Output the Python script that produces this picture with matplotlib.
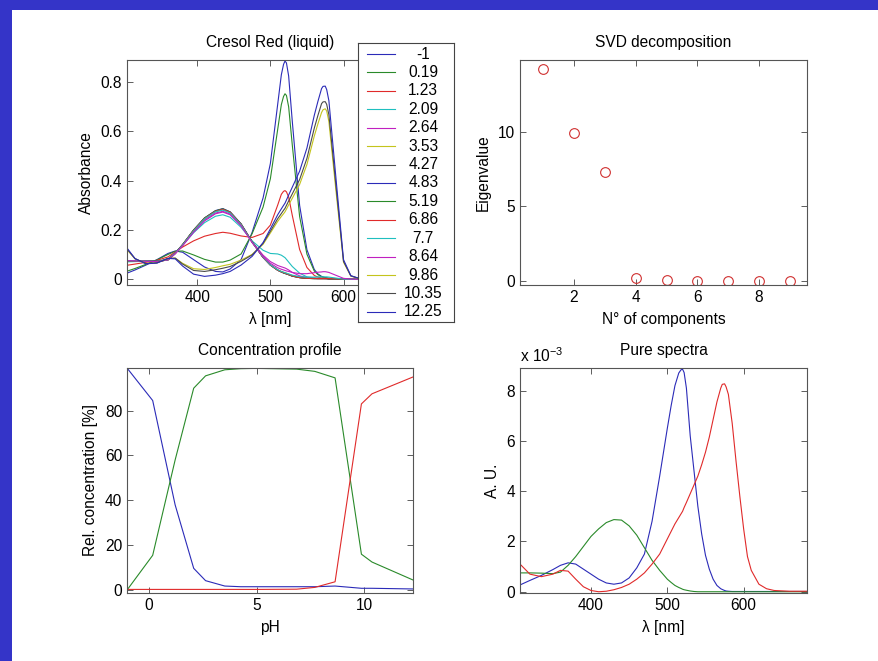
import matplotlib
matplotlib.use("Agg")
import matplotlib.pyplot as plt
from matplotlib.patches import Rectangle

# pH values of the titration (legend entries)
ph = [-1, 0.19, 1.23, 2.09, 2.64, 3.53, 4.27, 4.83, 5.19, 6.86, 7.7, 8.64, 9.86, 10.35, 12.25]
ph_labels = ["-1", "0.19", "1.23", "2.09", "2.64", "3.53", "4.27", "4.83", "5.19",
             "6.86", "7.7", "8.64", "9.86", "10.35", "12.25"]

# measured spectra (top left), one list per pH
wl_mix = [304, 315, 330, 345, 360, 370, 380, 395, 410, 425, 435, 445, 460, 475, 490, 500,
          510, 515, 518, 520, 522, 525, 530, 540, 550, 560, 565, 570, 572, 575, 577, 580,
          590, 600, 610, 620, 640, 695]
a_m1 = [0.025, 0.038, 0.058, 0.080, 0.105, 0.115, 0.110, 0.080, 0.050, 0.032, 0.030, 0.042, 0.080, 0.190, 0.330, 0.470,
        0.710, 0.830, 0.872, 0.886, 0.878, 0.825, 0.640, 0.300, 0.120, 0.040, 0.022, 0.012, 0.010, 0.007, 0.006, 0.004,
        0.003, 0.001, 0.0, 0.0, 0.0, 0.0]
a_019 = [0.033, 0.044, 0.061, 0.079, 0.101, 0.114, 0.115, 0.099, 0.081, 0.070, 0.070, 0.078, 0.103, 0.185, 0.293, 0.408,
         0.608, 0.709, 0.742, 0.753, 0.746, 0.700, 0.544, 0.255, 0.102, 0.034, 0.019, 0.010, 0.008, 0.006, 0.005, 0.004,
         0.003, 0.001, 0.0, 0.0, 0.0, 0.0]
a_123 = [0.057, 0.062, 0.069, 0.077, 0.091, 0.111, 0.131, 0.156, 0.175, 0.186, 0.191, 0.187, 0.176, 0.170, 0.186, 0.220,
         0.301, 0.345, 0.357, 0.360, 0.355, 0.334, 0.259, 0.121, 0.048, 0.016, 0.009, 0.005, 0.005, 0.004, 0.003, 0.003,
         0.002, 0.001, 0.0, 0.0, 0.0, 0.0]
a_209 = [0.071, 0.072, 0.073, 0.074, 0.082, 0.107, 0.138, 0.189, 0.230, 0.256, 0.262, 0.252, 0.211, 0.156, 0.118, 0.105,
         0.103, 0.098, 0.092, 0.088, 0.081, 0.070, 0.052, 0.025, 0.010, 0.006, 0.005, 0.004, 0.004, 0.003, 0.003, 0.002,
         0.002, 0.001, 0.0, 0.0, 0.0, 0.0]
a_264 = [0.073, 0.074, 0.073, 0.072, 0.079, 0.105, 0.139, 0.194, 0.241, 0.269, 0.276, 0.265, 0.219, 0.153, 0.098, 0.072,
         0.056, 0.051, 0.048, 0.046, 0.043, 0.038, 0.028, 0.014, 0.007, 0.004, 0.003, 0.003, 0.003, 0.003, 0.003, 0.002,
         0.002, 0.001, 0.0, 0.0, 0.0, 0.0]
a_353 = [0.075, 0.075, 0.074, 0.072, 0.079, 0.105, 0.140, 0.198, 0.246, 0.276, 0.283, 0.271, 0.223, 0.152, 0.090, 0.059,
         0.039, 0.032, 0.029, 0.027, 0.025, 0.021, 0.015, 0.008, 0.004, 0.003, 0.003, 0.003, 0.003, 0.003, 0.003, 0.002,
         0.002, 0.001, 0.0, 0.0, 0.0, 0.0]
a_427 = [0.075, 0.075, 0.074, 0.073, 0.079, 0.106, 0.140, 0.199, 0.248, 0.277, 0.285, 0.272, 0.224, 0.152, 0.089, 0.058,
         0.037, 0.030, 0.026, 0.024, 0.022, 0.019, 0.013, 0.007, 0.004, 0.003, 0.003, 0.003, 0.003, 0.003, 0.003, 0.002,
         0.002, 0.001, 0.0, 0.0, 0.0, 0.0]
a_483 = [0.076, 0.076, 0.075, 0.073, 0.080, 0.107, 0.141, 0.200, 0.249, 0.279, 0.287, 0.274, 0.225, 0.153, 0.089, 0.058,
         0.037, 0.030, 0.026, 0.024, 0.022, 0.019, 0.013, 0.007, 0.004, 0.003, 0.003, 0.003, 0.003, 0.003, 0.003, 0.002,
         0.002, 0.001, 0.0, 0.0, 0.0, 0.0]
a_519 = [0.075, 0.075, 0.074, 0.073, 0.079, 0.106, 0.141, 0.200, 0.249, 0.278, 0.286, 0.273, 0.224, 0.152, 0.089, 0.058,
         0.037, 0.030, 0.026, 0.024, 0.022, 0.019, 0.013, 0.007, 0.004, 0.003, 0.003, 0.003, 0.003, 0.003, 0.003, 0.002,
         0.002, 0.001, 0.0, 0.0, 0.0, 0.0]
a_686 = [0.075, 0.075, 0.074, 0.072, 0.079, 0.105, 0.140, 0.198, 0.247, 0.276, 0.284, 0.272, 0.223, 0.151, 0.089, 0.058,
         0.037, 0.030, 0.027, 0.025, 0.023, 0.019, 0.014, 0.007, 0.004, 0.004, 0.003, 0.003, 0.003, 0.003, 0.003, 0.003,
         0.002, 0.001, 0.0, 0.0, 0.0, 0.0]
a_77 = [0.075, 0.075, 0.074, 0.072, 0.079, 0.105, 0.139, 0.196, 0.245, 0.274, 0.281, 0.269, 0.221, 0.151, 0.090, 0.059,
        0.039, 0.032, 0.029, 0.027, 0.025, 0.022, 0.017, 0.011, 0.009, 0.009, 0.010, 0.010, 0.010, 0.010, 0.010, 0.009,
        0.005, 0.001, 0.0, 0.0, 0.0, 0.0]
a_864 = [0.076, 0.075, 0.073, 0.072, 0.079, 0.104, 0.136, 0.191, 0.237, 0.266, 0.273, 0.262, 0.217, 0.149, 0.092, 0.065,
         0.047, 0.041, 0.038, 0.036, 0.034, 0.032, 0.028, 0.023, 0.023, 0.027, 0.029, 0.030, 0.031, 0.031, 0.030, 0.028,
         0.016, 0.004, 0.001, 0.0, 0.0, 0.0]
a_986 = [0.120, 0.083, 0.064, 0.067, 0.084, 0.086, 0.065, 0.043, 0.040, 0.048, 0.055, 0.061, 0.078, 0.101, 0.142, 0.188,
         0.235, 0.255, 0.266, 0.274, 0.285, 0.302, 0.329, 0.385, 0.466, 0.581, 0.631, 0.677, 0.688, 0.692, 0.683, 0.640,
         0.350, 0.070, 0.013, 0.004, 0.002, 0.002]
a_1035 = [0.123, 0.084, 0.064, 0.067, 0.085, 0.086, 0.062, 0.036, 0.032, 0.039, 0.045, 0.052, 0.073, 0.099, 0.146, 0.195,
          0.246, 0.267, 0.280, 0.288, 0.300, 0.318, 0.347, 0.405, 0.491, 0.613, 0.665, 0.713, 0.720, 0.721, 0.710, 0.668,
          0.370, 0.073, 0.014, 0.005, 0.002, 0.002]
a_1225 = [0.127, 0.084, 0.063, 0.066, 0.085, 0.083, 0.054, 0.021, 0.012, 0.017, 0.023, 0.032, 0.058, 0.093, 0.149, 0.205,
          0.262, 0.286, 0.300, 0.309, 0.322, 0.342, 0.374, 0.439, 0.533, 0.665, 0.722, 0.774, 0.783, 0.784, 0.770, 0.725,
          0.400, 0.080, 0.015, 0.005, 0.002, 0.002]
spectra = [a_m1, a_019, a_123, a_209, a_264, a_353, a_427, a_483, a_519,
           a_686, a_77, a_864, a_986, a_1035, a_1225]

# singular values (top right)
n_comp = [1, 2, 3, 4, 5, 6, 7, 8, 9]
eigval = [14.2, 9.93, 7.3, 0.22, 0.05, 0.02, 0.01, 0.01, 0.01]

# concentration profile (bottom left), %
conc_acid = [99, 84.5, 38, 9.7, 4.2, 1.8, 1.5, 1.5, 1.5, 1.5, 1.5, 1.8, 0.8, 0.8, 0.5]
conc_yellow = [0, 15.5, 58, 90, 95.5, 98.2, 98.7, 98.8, 98.8, 98.5, 97.5, 94.6, 16, 12.5, 4.5]
conc_basic = [0.3, 0.3, 0.3, 0.3, 0.3, 0.3, 0.3, 0.3, 0.3, 0.4, 1.2, 3.7, 83, 87.5, 95]

# pure spectra (bottom right), x 1e-3
wl_pure = [307, 320, 335, 350, 360, 370, 380, 390, 400, 410, 420, 430, 440, 450, 460, 470, 480, 490,
           500, 505, 510, 515, 518, 520, 522, 525, 530, 535, 540, 545, 550, 555, 560, 565, 570, 572,
           575, 577, 580, 585, 590, 595, 600, 605, 610, 620, 630, 640, 660, 683]
pure_acid = [0.27, 0.45, 0.65, 0.88, 1.05, 1.15, 1.1, 0.9, 0.7, 0.5, 0.35, 0.3, 0.35, 0.55, 0.95, 1.5, 2.8, 4.6,
             6.5, 7.4, 8.2, 8.7, 8.83, 8.85, 8.72, 8.1, 6.2, 4.8, 3.4, 2.3, 1.45, 0.9, 0.5, 0.25, 0.12, 0.09,
             0.05, 0.03, 0.02, 0.01, 0.01, 0.01, 0.01, 0.01, 0.01, 0.01, 0.01, 0.01, 0.01, 0.01]
pure_yellow = [0.75, 0.75, 0.74, 0.72, 0.78, 1.05, 1.4, 1.8, 2.2, 2.5, 2.75, 2.87, 2.85, 2.62, 2.25, 1.75, 1.25, 0.85,
               0.5, 0.37, 0.25, 0.17, 0.13, 0.1, 0.08, 0.06, 0.03, 0.01, 0.0, 0.0, 0.0, 0.0, 0.0, 0.0, 0.0, 0.0,
               0.0, 0.0, 0.0, 0.0, 0.0, 0.0, 0.0, 0.0, 0.0, 0.0, 0.0, 0.0, 0.0, 0.0]
pure_basic = [1.1, 0.7, 0.6, 0.7, 0.85, 0.82, 0.5, 0.2, 0.05, 0.0, 0.02, 0.08, 0.17, 0.3, 0.5, 0.75, 1.1, 1.5,
              2.1, 2.4, 2.7, 2.95, 3.1, 3.2, 3.35, 3.55, 3.9, 4.25, 4.6, 5.05, 5.55, 6.15, 6.85, 7.55, 8.1, 8.25,
              8.27, 8.15, 7.85, 6.7, 5.2, 3.8, 2.5, 1.4, 0.85, 0.3, 0.12, 0.05, 0.02, 0.02]

# matlab-like colour order
c_b, c_g, c_r = "#2b2bb8", "#2a8a2a", "#e02a2a"
cycle = [c_b, c_g, c_r, "#1fbfbf", "#c020c0", "#c4c41c", "#4a4a4a"]

FS = 11.2
plt.rcParams['font.family'] = ['Liberation Sans', 'DejaVu Sans']
plt.rcParams['font.size'] = FS
plt.rcParams['mathtext.fontset'] = 'custom'
plt.rcParams['mathtext.rm'] = 'Liberation Sans'

W, H = 879, 661
fig = plt.figure(figsize=(W / 100, H / 100), dpi=100, facecolor="#3434c8")
fig.patches.append(Rectangle((12 / W, 0), 1, 1 - 10 / H, transform=fig.transFigure,
                             facecolor="white", edgecolor="none", zorder=-10))


def box(x0, x1, ytop, ybot):
    return [x0 / W, 1 - ybot / H, (x1 - x0) / W, (ybot - ytop) / H]


def style(ax):
    ax.tick_params(direction="in", top=True, right=True, length=4, width=0.6,
                   color="#444444", labelcolor="black", pad=3.5, labelsize=FS)
    for s in ax.spines.values():
        s.set_linewidth(0.8)
        s.set_color("#555555")


# top left: measured spectra
ax1 = fig.add_axes(box(127, 413, 60, 285))
for i, a in enumerate(spectra):
    ax1.plot(wl_mix, a, color=cycle[i % 7], lw=0.8)
ax1.set_xlim(304, 695)
ax1.set_ylim(-0.023, 0.89)
ax1.set_xticks([400, 500, 600])
ax1.set_yticks([0, 0.2, 0.4, 0.6, 0.8])
ax1.set_yticklabels(["0", "0.2", "0.4", "0.6", "0.8"])
ax1.set_title("Cresol Red (liquid)", fontsize=FS, pad=9)
ax1.set_xlabel("λ [nm]", labelpad=5)
ax1.set_ylabel("Absorbance", labelpad=5)
style(ax1)

# legend drawn in its own box
lax = fig.add_axes(box(358, 454, 43, 322))
lax.set_xlim(0, 1)
lax.set_ylim(len(ph) - 0.45, -0.6)
lax.set_xticks([])
lax.set_yticks([])
for s in lax.spines.values():
    s.set_linewidth(0.8)
    s.set_color("#444444")
for i, lab in enumerate(ph_labels):
    lax.plot([0.09, 0.385], [i, i], color=cycle[i % 7], lw=0.8)
    lax.text(0.68, i, lab, ha="center", va="center", fontsize=FS)

# top right: SVD
ax2 = fig.add_axes(box(520, 807, 60, 285))
ax2.plot(n_comp, eigval, "o", mfc="none", mec="#d03030", ms=7, mew=0.8)
ax2.set_xlim(0.25, 9.55)
ax2.set_ylim(-0.27, 14.8)
ax2.set_xticks([2, 4, 6, 8])
ax2.set_yticks([0, 5, 10])
ax2.set_title("SVD decomposition", fontsize=FS, pad=9)
ax2.set_xlabel("N° of components", labelpad=5)
ax2.set_ylabel("Eigenvalue", labelpad=5)
style(ax2)

# bottom left: concentration profile
ax3 = fig.add_axes(box(127, 413, 368, 593))
ax3.plot(ph, conc_acid, color=c_b, lw=0.8)
ax3.plot(ph, conc_yellow, color=c_g, lw=0.8)
ax3.plot(ph, conc_basic, color=c_r, lw=0.8)
ax3.set_xlim(-1, 12.25)
ax3.set_ylim(-1.3, 99)
ax3.set_xticks([0, 5, 10])
ax3.set_yticks([0, 20, 40, 60, 80])
ax3.set_title("Concentration profile", fontsize=FS, pad=9)
ax3.set_xlabel("pH", labelpad=5)
ax3.set_ylabel("Rel. concentration [%]", labelpad=5)
style(ax3)

# bottom right: pure spectra
ax4 = fig.add_axes(box(520, 807, 368, 593))
ax4.plot(wl_pure, pure_acid, color=c_b, lw=0.8)
ax4.plot(wl_pure, pure_yellow, color=c_g, lw=0.8)
ax4.plot(wl_pure, pure_basic, color=c_r, lw=0.8)
ax4.set_xlim(307, 683)
ax4.set_ylim(-0.05, 8.9)
ax4.set_xticks([400, 500, 600])
ax4.set_yticks([0, 2, 4, 6, 8])
ax4.set_title("Pure spectra", fontsize=FS, pad=9)
ax4.set_xlabel("λ [nm]", labelpad=5)
ax4.set_ylabel("A. U.", labelpad=5)
ax4.text(0, 1.015, r"x 10$^{\mathregular{-3}}$", transform=ax4.transAxes, fontsize=FS,
         ha="left", va="bottom")
style(ax4)

fig.savefig("out.png", dpi=100, facecolor=fig.get_facecolor())
